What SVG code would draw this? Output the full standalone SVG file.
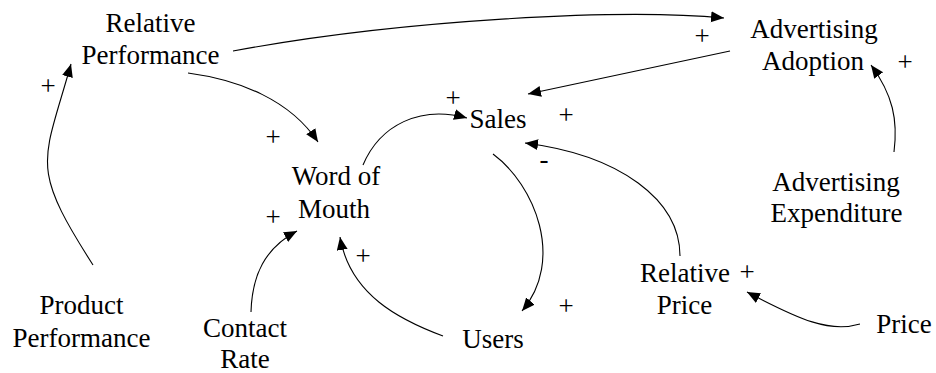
<svg xmlns="http://www.w3.org/2000/svg" width="936" height="373" viewBox="0 0 936 373">
  <style>
    text { font-size: 27px; fill: #000; text-anchor: middle; }
    .link { fill: none; stroke: #000; stroke-width: 1.1; marker-end: url(#head); }
  </style>
  <defs>
    <marker id="head" markerUnits="userSpaceOnUse" markerWidth="14" markerHeight="12" refX="13" refY="5.5" orient="auto">
      <path d="M0,0 L13,5.5 L0,11 z" fill="#000"/>
    </marker>
  </defs>
  <rect width="936" height="373" fill="#fff"/>

  <g id="links">
    <!-- Product Performance -> Relative Performance -->
    <path class="link" d="M93,265 C29,165 43,164 71,64"/>
    <!-- Relative Performance -> Advertising Adoption -->
    <path class="link" d="M233,51 C400,20 620,8 724,18"/>
    <!-- Advertising Adoption -> Sales -->
    <path class="link" d="M730,51 L528,94"/>
    <!-- Relative Performance -> Word of Mouth -->
    <path class="link" d="M188,73 C240,80 290,100 318,142"/>
    <!-- Word of Mouth -> Sales -->
    <path class="link" d="M363,165 C380,125 420,105 467,118"/>
    <!-- Sales -> Users -->
    <path class="link" d="M493,154 C535,185 565,260 522,311"/>
    <!-- Relative Price -> Sales -->
    <path class="link" d="M680,256 C680,200 620,155 525,143"/>
    <!-- Price -> Relative Price -->
    <path class="link" d="M860,324 C830,333 800,320 747,292"/>
    <!-- Advertising Expenditure -> Advertising Adoption -->
    <path class="link" d="M894,152 C898,120 893,95 871,65"/>
    <!-- Contact Rate -> Word of Mouth -->
    <path class="link" d="M251,312 C252,275 265,248 297,231"/>
    <!-- Users -> Word of Mouth -->
    <path class="link" d="M443,336 C400,320 350,295 340,237"/>
  </g>

  <g font-family="Liberation Serif, Tinos, Times New Roman, Nimbus Roman, DejaVu Serif, serif">
  <g id="polarities">
    <text x="48" y="95">+</text>
    <text x="273" y="146">+</text>
    <text x="453" y="107">+</text>
    <text x="566" y="124">+</text>
    <text x="544" y="168">-</text>
    <text x="702" y="45">+</text>
    <text x="905" y="71">+</text>
    <text x="273" y="226">+</text>
    <text x="363" y="265">+</text>
    <text x="566" y="315">+</text>
    <text x="747" y="281">+</text>
  </g>

  <g id="relative-performance">
    <text x="150.5" y="32">Relative</text>
    <text x="150.5" y="64">Performance</text>
  </g>
  <g id="advertising-adoption">
    <text x="814" y="38">Advertising</text>
    <text x="813" y="69.5">Adoption</text>
  </g>
  <g id="sales">
    <text x="498" y="128">Sales</text>
  </g>
  <g id="word-of-mouth">
    <text x="336" y="185">Word of</text>
    <text x="334" y="218">Mouth</text>
  </g>
  <g id="advertising-expenditure">
    <text x="836" y="191">Advertising</text>
    <text x="836.5" y="222">Expenditure</text>
  </g>
  <g id="product-performance">
    <text x="81.5" y="314">Product</text>
    <text x="81.5" y="347">Performance</text>
  </g>
  <g id="contact-rate">
    <text x="245" y="337">Contact</text>
    <text x="245" y="368">Rate</text>
  </g>
  <g id="users">
    <text x="493" y="348">Users</text>
  </g>
  <g id="relative-price">
    <text x="685" y="282">Relative</text>
    <text x="684.5" y="314">Price</text>
  </g>
  <g id="price">
    <text x="904" y="333">Price</text>
  </g>
  </g>
</svg>
